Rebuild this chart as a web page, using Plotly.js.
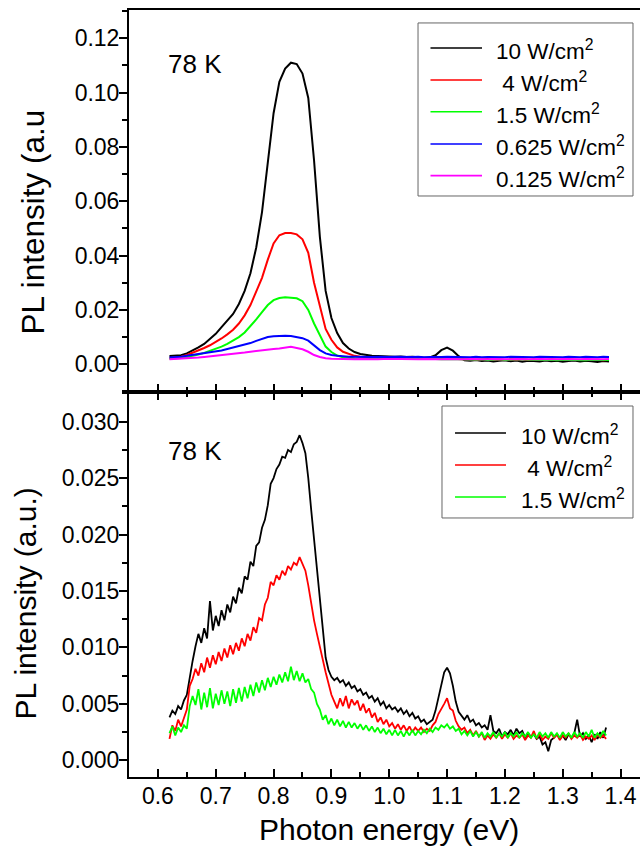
<!DOCTYPE html>
<html>
<head>
<meta charset="utf-8">
<script src="https://cdn.plot.ly/plotly-3.0.1.min.js"></script>
<style>html,body{margin:0;padding:0;background:#fff;}#chart{width:640px;height:848px;}</style>
</head>
<body>
<div id="chart"></div>
<script>
// ---------- Top panel: x = 0.62 .. 1.38 eV, step 0.01 ----------
const topX0 = 0.62, topDx = 0.01;
const topNames = ['10 W/cm<sup>2</sup>', '\u00a04 W/cm<sup>2</sup>', '1.5 W/cm<sup>2</sup>', '0.625 W/cm<sup>2</sup>', '0.125 W/cm<sup>2</sup>'];
const topColors = ['#000000', '#ff0000', '#00ff00', '#0000ff', '#ff00ff'];

const top10 = [0.0030,0.0031,0.0033,0.0040,0.0050,0.0062,0.0075,0.0092,0.0112,0.0137,
 0.0160,0.0185,0.0222,0.0270,0.0335,0.0430,0.0560,0.0740,0.0924,0.1040,
 0.1088,0.1110,0.1105,0.1070,0.0980,0.0750,0.0470,0.0270,0.0170,0.0115,
 0.0078,0.0058,0.0045,0.0038,0.0034,0.0031,0.0030,0.0029,0.0029,0.0028,
 0.0029,0.0027,0.0028,0.0026,0.0024,0.0025,0.0033,0.0052,0.0061,0.0050,
 0.0030,0.0015,0.0013,0.0016,0.0012,0.0014,0.0010,0.0013,0.0015,0.0011,
 0.0014,0.0009,0.0013,0.0012,0.0010,0.0014,0.0011,0.0013,0.0009,0.0012,
 0.0014,0.0010,0.0013,0.0011,0.0008,0.0012,0.0010];
const top4 = [0.0022,0.0024,0.0028,0.0034,0.0042,0.0050,0.0060,0.0070,0.0082,0.0095,
 0.0110,0.0127,0.0150,0.0180,0.0218,0.0265,0.0318,0.0385,0.0445,0.0475,
 0.0483,0.0483,0.0478,0.0460,0.0410,0.0300,0.0210,0.0130,0.0090,0.0062,
 0.0046,0.0037,0.0031,0.0028,0.0026,0.0025,0.0024,0.0024,0.0023,0.0023,
 0.0022,0.0023,0.0022,0.0021,0.0022,0.0021,0.0022,0.0021,0.0022,0.0020,
 0.0019,0.0018,0.0019,0.0017,0.0018,0.0019,0.0017,0.0018,0.0016,0.0018,
 0.0017,0.0019,0.0016,0.0018,0.0017,0.0016,0.0018,0.0017,0.0016,0.0018,
 0.0017,0.0016,0.0018,0.0016,0.0017,0.0015,0.0017];
const top1p5 = [0.0020,0.0021,0.0023,0.0027,0.0031,0.0036,0.0042,0.0049,0.0056,0.0065,
 0.0075,0.0087,0.0100,0.0117,0.0140,0.0165,0.0192,0.0218,0.0236,0.0244,
 0.0247,0.0246,0.0243,0.0232,0.0200,0.0150,0.0105,0.0065,0.0045,0.0032,
 0.0026,0.0023,0.0022,0.0021,0.0021,0.0020,0.0020,0.0021,0.0020,0.0019,
 0.0020,0.0019,0.0020,0.0019,0.0019,0.0020,0.0019,0.0018,0.0019,0.0018,
 0.0018,0.0017,0.0018,0.0017,0.0018,0.0016,0.0017,0.0018,0.0016,0.0017,
 0.0016,0.0018,0.0017,0.0016,0.0017,0.0016,0.0017,0.0015,0.0017,0.0016,
 0.0017,0.0016,0.0015,0.0017,0.0016,0.0015,0.0016];
const top0p625 = [0.0025,0.0026,0.0028,0.0031,0.0034,0.0037,0.0040,0.0043,0.0047,0.0051,
 0.0056,0.0061,0.0066,0.0072,0.0078,0.0086,0.0094,0.0100,0.0103,0.0105,
 0.0105,0.0104,0.0101,0.0096,0.0087,0.0068,0.0052,0.0040,0.0034,0.0031,
 0.0029,0.0028,0.0028,0.0027,0.0028,0.0027,0.0028,0.0027,0.0027,0.0028,
 0.0027,0.0026,0.0027,0.0028,0.0026,0.0027,0.0026,0.0027,0.0028,0.0027,
 0.0026,0.0027,0.0026,0.0028,0.0026,0.0027,0.0026,0.0027,0.0026,0.0028,
 0.0027,0.0026,0.0027,0.0026,0.0028,0.0027,0.0026,0.0027,0.0026,0.0028,
 0.0027,0.0026,0.0028,0.0027,0.0026,0.0028,0.0027];
const top0p125 = [0.0018,0.0019,0.0020,0.0021,0.0023,0.0025,0.0027,0.0029,0.0031,0.0033,
 0.0035,0.0037,0.0040,0.0043,0.0046,0.0049,0.0052,0.0054,0.0056,0.0058,
 0.0060,0.0064,0.0060,0.0055,0.0046,0.0034,0.0027,0.0022,0.0020,0.0019,
 0.0019,0.0019,0.0018,0.0019,0.0018,0.0019,0.0018,0.0019,0.0018,0.0019,
 0.0019,0.0018,0.0019,0.0018,0.0019,0.0018,0.0019,0.0018,0.0019,0.0018,
 0.0019,0.0018,0.0019,0.0018,0.0019,0.0018,0.0019,0.0018,0.0019,0.0018,
 0.0019,0.0018,0.0019,0.0018,0.0019,0.0018,0.0019,0.0018,0.0019,0.0018,
 0.0019,0.0018,0.0019,0.0018,0.0019,0.0018,0.0019];

// ---------- Bottom panel: x = 0.62 .. 1.375 eV, step 0.005 ----------
const botX0 = 0.62, botDx = 0.005;
const botNames = ['10 W/cm<sup>2</sup>', '\u00a04 W/cm<sup>2</sup>', '1.5 W/cm<sup>2</sup>'];
const botColors = ['#000000', '#ff0000', '#00ff00'];

const bot10 = [0.0038,0.0044,0.0041,0.0048,0.0045,0.0053,0.0058,0.0074,0.0088,0.0101,
 0.0112,0.0104,0.0117,0.0108,0.0141,0.0115,0.0128,0.0119,0.0133,0.0124,
 0.0138,0.0131,0.0145,0.0139,0.0153,0.0148,0.0163,0.0160,0.0176,0.0172,
 0.0190,0.0193,0.0206,0.0213,0.0226,0.0245,0.0250,0.0258,0.0262,0.0269,
 0.0268,0.0275,0.0273,0.0280,0.0282,0.0288,0.0281,0.0272,0.0250,0.0222,
 0.0196,0.0166,0.0139,0.0112,0.0091,0.0080,0.0074,0.0071,0.0073,0.0069,
 0.0071,0.0066,0.0069,0.0064,0.0066,0.0061,0.0063,0.0058,0.0060,0.0055,
 0.0057,0.0052,0.0055,0.0049,0.0052,0.0046,0.0049,0.0045,0.0047,0.0043,
 0.0046,0.0041,0.0044,0.0039,0.0042,0.0037,0.0039,0.0034,0.0036,0.0032,
 0.0034,0.0036,0.0044,0.0056,0.0069,0.0078,0.0082,0.0077,0.0066,0.0052,
 0.0043,0.0039,0.0036,0.0040,0.0034,0.0036,0.0031,0.0033,0.0029,0.0031,
 0.0027,0.0040,0.0026,0.0024,0.0028,0.0021,0.0025,0.0023,0.0027,0.0022,
 0.0028,0.0024,0.0026,0.0020,0.0024,0.0021,0.0023,0.0019,0.0021,0.0014,
 0.0016,0.0008,0.0018,0.0020,0.0023,0.0019,0.0022,0.0018,0.0023,0.0020,
 0.0024,0.0036,0.0021,0.0024,0.0019,0.0022,0.0016,0.0023,0.0019,0.0025,
 0.0020,0.0029];
const bot4 = [0.0019,0.0031,0.0026,0.0036,0.0030,0.0037,0.0045,0.0066,0.0072,0.0081,
 0.0075,0.0086,0.0078,0.0091,0.0082,0.0093,0.0085,0.0096,0.0088,0.0099,
 0.0091,0.0102,0.0094,0.0104,0.0097,0.0108,0.0101,0.0112,0.0106,0.0118,
 0.0113,0.0126,0.0124,0.0138,0.0144,0.0158,0.0155,0.0164,0.0160,0.0168,
 0.0164,0.0172,0.0169,0.0175,0.0173,0.0180,0.0174,0.0168,0.0155,0.0138,
 0.0124,0.0112,0.0100,0.0090,0.0078,0.0068,0.0058,0.0052,0.0046,0.0055,
 0.0048,0.0057,0.0046,0.0054,0.0049,0.0053,0.0044,0.0050,0.0042,0.0046,
 0.0038,0.0042,0.0034,0.0038,0.0032,0.0036,0.0030,0.0033,0.0028,0.0032,
 0.0027,0.0031,0.0026,0.0030,0.0025,0.0029,0.0026,0.0029,0.0025,0.0028,
 0.0026,0.0031,0.0034,0.0041,0.0045,0.0050,0.0055,0.0046,0.0044,0.0035,
 0.0030,0.0027,0.0029,0.0024,0.0027,0.0022,0.0026,0.0021,0.0024,0.0018,
 0.0022,0.0019,0.0023,0.0020,0.0024,0.0019,0.0023,0.0020,0.0024,0.0019,
 0.0022,0.0020,0.0023,0.0018,0.0022,0.0020,0.0026,0.0019,0.0023,0.0018,
 0.0021,0.0019,0.0024,0.0020,0.0023,0.0018,0.0022,0.0020,0.0024,0.0019,
 0.0022,0.0020,0.0023,0.0018,0.0021,0.0019,0.0022,0.0018,0.0023,0.0020,
 0.0022,0.0019];
const bot1p5 = [0.0024,0.0030,0.0022,0.0029,0.0025,0.0031,0.0028,0.0048,0.0057,0.0049,
 0.0063,0.0045,0.0060,0.0047,0.0064,0.0046,0.0059,0.0049,0.0062,0.0050,
 0.0061,0.0048,0.0063,0.0051,0.0064,0.0052,0.0065,0.0055,0.0067,0.0057,
 0.0069,0.0060,0.0071,0.0062,0.0073,0.0065,0.0074,0.0067,0.0076,0.0069,
 0.0078,0.0070,0.0083,0.0071,0.0079,0.0070,0.0077,0.0069,0.0072,0.0063,
 0.0060,0.0050,0.0045,0.0036,0.0040,0.0032,0.0037,0.0031,0.0036,0.0030,
 0.0035,0.0029,0.0034,0.0029,0.0033,0.0028,0.0032,0.0027,0.0031,0.0026,
 0.0030,0.0025,0.0029,0.0024,0.0028,0.0023,0.0027,0.0022,0.0027,0.0022,
 0.0026,0.0021,0.0026,0.0022,0.0027,0.0022,0.0026,0.0023,0.0027,0.0024,
 0.0028,0.0025,0.0029,0.0027,0.0031,0.0029,0.0032,0.0028,0.0030,0.0026,
 0.0028,0.0023,0.0026,0.0022,0.0026,0.0021,0.0025,0.0021,0.0025,0.0020,
 0.0024,0.0021,0.0025,0.0020,0.0024,0.0021,0.0025,0.0020,0.0024,0.0021,
 0.0025,0.0020,0.0024,0.0021,0.0025,0.0020,0.0023,0.0020,0.0025,0.0021,
 0.0024,0.0020,0.0025,0.0021,0.0024,0.0020,0.0025,0.0021,0.0024,0.0020,
 0.0025,0.0021,0.0024,0.0020,0.0025,0.0021,0.0027,0.0020,0.0024,0.0021,
 0.0026,0.0022];

const topSeries = [top10, top4, top1p5, top0p625, top0p125];
const botSeries = [bot10, bot4, bot1p5];

const FONT = 'Liberation Sans, Arial, Helvetica, sans-serif';
const traces = [];
topSeries.forEach((s, i) => traces.push({
  type: 'scatter', mode: 'lines', x0: topX0, dx: topDx, y: s,
  xaxis: 'x2', yaxis: 'y2', name: topNames[i], showlegend: false,
  line: {color: topColors[i], width: 2}
}));
botSeries.forEach((s, i) => traces.push({
  type: 'scatter', mode: 'lines', x0: botX0, dx: botDx, y: s,
  xaxis: 'x', yaxis: 'y', name: botNames[i], showlegend: false,
  line: {color: botColors[i], width: 1.8}
}));

// ---------- Legend boxes (paper coordinates) ----------
const shapes = [];
const annotations = [];
function addLegend(box, lineX, textX, rowsY, names, colors) {
  shapes.push({type: 'rect', xref: 'paper', yref: 'paper', x0: box[0], x1: box[1], y0: box[2], y1: box[3],
    line: {color: '#666', width: 1}, fillcolor: '#fff', layer: 'above'});
  names.forEach((n, i) => {
    shapes.push({type: 'line', xref: 'paper', yref: 'paper', x0: lineX[0], x1: lineX[1], y0: rowsY[i], y1: rowsY[i],
      line: {color: colors[i], width: 1.6}, layer: 'above'});
    annotations.push({text: n, xref: 'paper', yref: 'paper', x: textX, y: rowsY[i] - 0.003, xanchor: 'left', yanchor: 'middle',
      showarrow: false, font: {family: FONT, size: 22.5, color: '#000'}});
  });
}
addLegend([0.5656, 0.9863, 0.7575, 0.9831], [0.590, 0.6908], 0.7143, [0.9505, 0.9087, 0.8674, 0.8253, 0.7840], topNames, topColors);
addLegend([0.6125, 0.9863, 0.3377, 0.4837], [0.638, 0.7378], 0.7632, [0.4485, 0.4068, 0.3651], botNames, botColors);

annotations.push(
  {text: '78 K', xref: 'paper', yref: 'paper', x: 0.1282, y: 0.9296, xanchor: 'center', yanchor: 'middle', showarrow: false, font: {family: FONT, size: 26, color: '#000'}},
  {text: '78 K', xref: 'paper', yref: 'paper', x: 0.1282, y: 0.425, xanchor: 'center', yanchor: 'middle', showarrow: false, font: {family: FONT, size: 26, color: '#000'}},
  {text: 'PL intensity (a.u', xref: 'paper', yref: 'paper', x: -0.186, y: 0.7243, xanchor: 'center', yanchor: 'middle', textangle: -90, showarrow: false, font: {family: FONT, size: 31.5, color: '#000'}},
  {text: 'PL intensity (a.u.)', xref: 'paper', yref: 'paper', x: -0.2035, y: 0.2262, xanchor: 'center', yanchor: 'middle', textangle: -90, showarrow: false, font: {family: FONT, size: 30, color: '#000'}},
  {text: 'Photon energy (eV)', xref: 'paper', yref: 'paper', x: 0.5088, y: -0.0691, xanchor: 'center', yanchor: 'middle', showarrow: false, font: {family: FONT, size: 30, color: '#000'}}
);

const xCommon = {
  range: [0.55, 1.4336], showline: true, linewidth: 2, linecolor: '#000',
  ticks: 'inside', ticklen: 8, tickwidth: 2, tickcolor: '#000',
  dtick: 0.1, tick0: 0, tickformat: '.1f', showgrid: false, zeroline: false,
  minor: {dtick: 0.05, ticks: 'inside', ticklen: 5, tickwidth: 2, tickcolor: '#000', showgrid: false},
  ticklabelstandoff: -3,
  tickfont: {family: FONT, size: 23, color: '#000'}
};
const yCommon = {
  showline: true, linewidth: 2, linecolor: '#000',
  ticks: 'outside', ticklen: 8, tickwidth: 2, tickcolor: '#000',
  showgrid: false, zeroline: false, ticklabelstandoff: -5,
  tickfont: {family: FONT, size: 23, color: '#000'}
};

const layout = {
  width: 640, height: 848,
  margin: {l: 129, r: 0, t: 10, b: 71},
  paper_bgcolor: '#fff', plot_bgcolor: '#fff',
  font: {family: FONT, color: '#000'},
  showlegend: false,
  xaxis: Object.assign({}, xCommon, {domain: [0, 1], anchor: 'y', mirror: 'ticks'}),
  xaxis2: Object.assign({}, xCommon, {domain: [0, 1], anchor: 'y2', matches: 'x', mirror: true, showticklabels: false}),
  yaxis: Object.assign({}, yCommon, {domain: [0, 0.502], range: [-0.00148, 0.03263], dtick: 0.005, tick0: 0, tickformat: '.3f',
    minor: {dtick: 0.0025, ticks: 'outside', ticklen: 5, tickwidth: 2, tickcolor: '#000', showgrid: false}}),
  yaxis2: Object.assign({}, yCommon, {domain: [0.502, 1], range: [-0.0102, 0.1304], dtick: 0.02, tick0: 0, tickformat: '.2f',
    minor: {dtick: 0.01, ticks: 'outside', ticklen: 5, tickwidth: 2, tickcolor: '#000', showgrid: false}}),
  shapes: shapes,
  annotations: annotations
};

Plotly.newPlot('chart', traces, layout, {displayModeBar: false, staticPlot: true});
</script>
</body>
</html>
